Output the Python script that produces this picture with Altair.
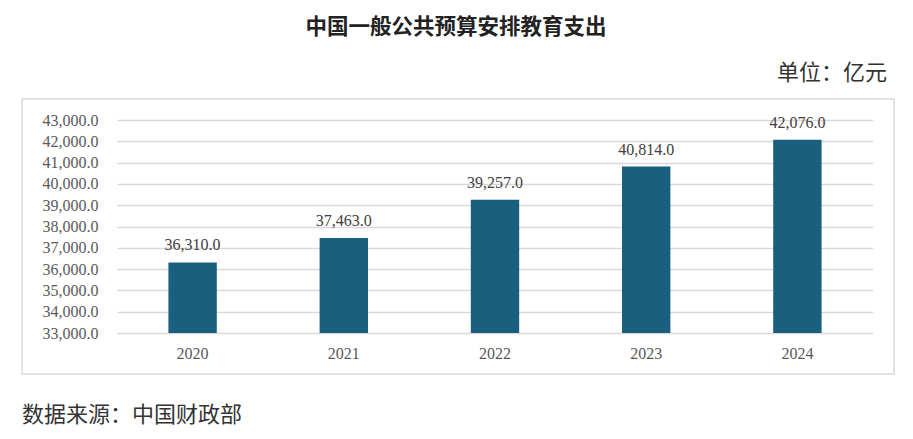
import pandas as pd
import altair as alt

# data
years = ["2020", "2021", "2022", "2023", "2024"]
spending = [36310.0, 37463.0, 39257.0, 40814.0, 42076.0]
y_ticks = [33000, 34000, 35000, 36000, 37000, 38000, 39000, 40000, 41000, 42000, 43000]

title_text = "中国一般公共预算安排教育支出"
unit_text = "单位：亿元"
source_text = "数据来源：中国财政部"

BAR = "#1a5f7d"
GRID = "#d9d9d9"
CJK = "Noto Sans CJK SC"
NUM = "Liberation Serif"

df = pd.DataFrame({"year": years, "value": spending})
one = pd.DataFrame({"a": [0]})

x_enc = alt.X("year:N", title=None,
              scale=alt.Scale(paddingInner=0.68, paddingOuter=0.34),
              axis=alt.Axis(labelAngle=0, ticks=False, domain=False,
                            labelPadding=12, labelFont=NUM, labelFontSize=16,
                            labelColor="#595959"))
y_enc = alt.Y("value:Q", title=None,
              scale=alt.Scale(domain=[33000, 43000], zero=False, nice=False),
              axis=alt.Axis(values=y_ticks, format=",.1f", ticks=False, domain=False,
                            labelOverlap=False, gridColor=GRID, gridWidth=1.5,
                            labelPadding=19, labelFont=NUM, labelFontSize=16,
                            labelColor="#595959"))

bars = alt.Chart(df).mark_bar(color=BAR).encode(
    x=x_enc, y=y_enc, y2=alt.datum(33000)
)

labels = alt.Chart(df).mark_text(
    dy=-17, font=NUM, fontSize=16, color="#404040"
).encode(x=x_enc, y=y_enc, text=alt.Text("value:Q", format=",.1f"))

box = alt.Chart(one).mark_rect(fill=None, stroke=GRID, strokeWidth=1.5).encode(
    x=alt.value(-95), x2=alt.value(777), y=alt.value(-21), y2=alt.value(254)
)

title = alt.Chart(one).mark_text(
    text=title_text, font=CJK, fontSize=21.5, fontWeight="bold",
    color="#222222", align="center", baseline="middle"
).encode(x=alt.value(339), y=alt.value(-92))

unit = alt.Chart(one).mark_text(
    text=unit_text, font=CJK, fontSize=22, color="#333333",
    align="right", baseline="middle"
).encode(x=alt.value(770), y=alt.value(-47))

source = alt.Chart(one).mark_text(
    text=source_text, font=CJK, fontSize=22, color="#333333",
    align="left", baseline="middle"
).encode(x=alt.value(-95), y=alt.value(295))

chart = alt.layer(box, bars, labels, title, unit, source).properties(
    width=756, height=213,
    autosize=alt.AutoSizeParams(type="none"),
    padding={"left": 109, "top": 112, "right": 28, "bottom": 95},
    background="white",
).configure_view(stroke=None).configure_axis(labelOverlap=False)

chart.save("out.html", embed_options={"renderer": "svg", "actions": False})
